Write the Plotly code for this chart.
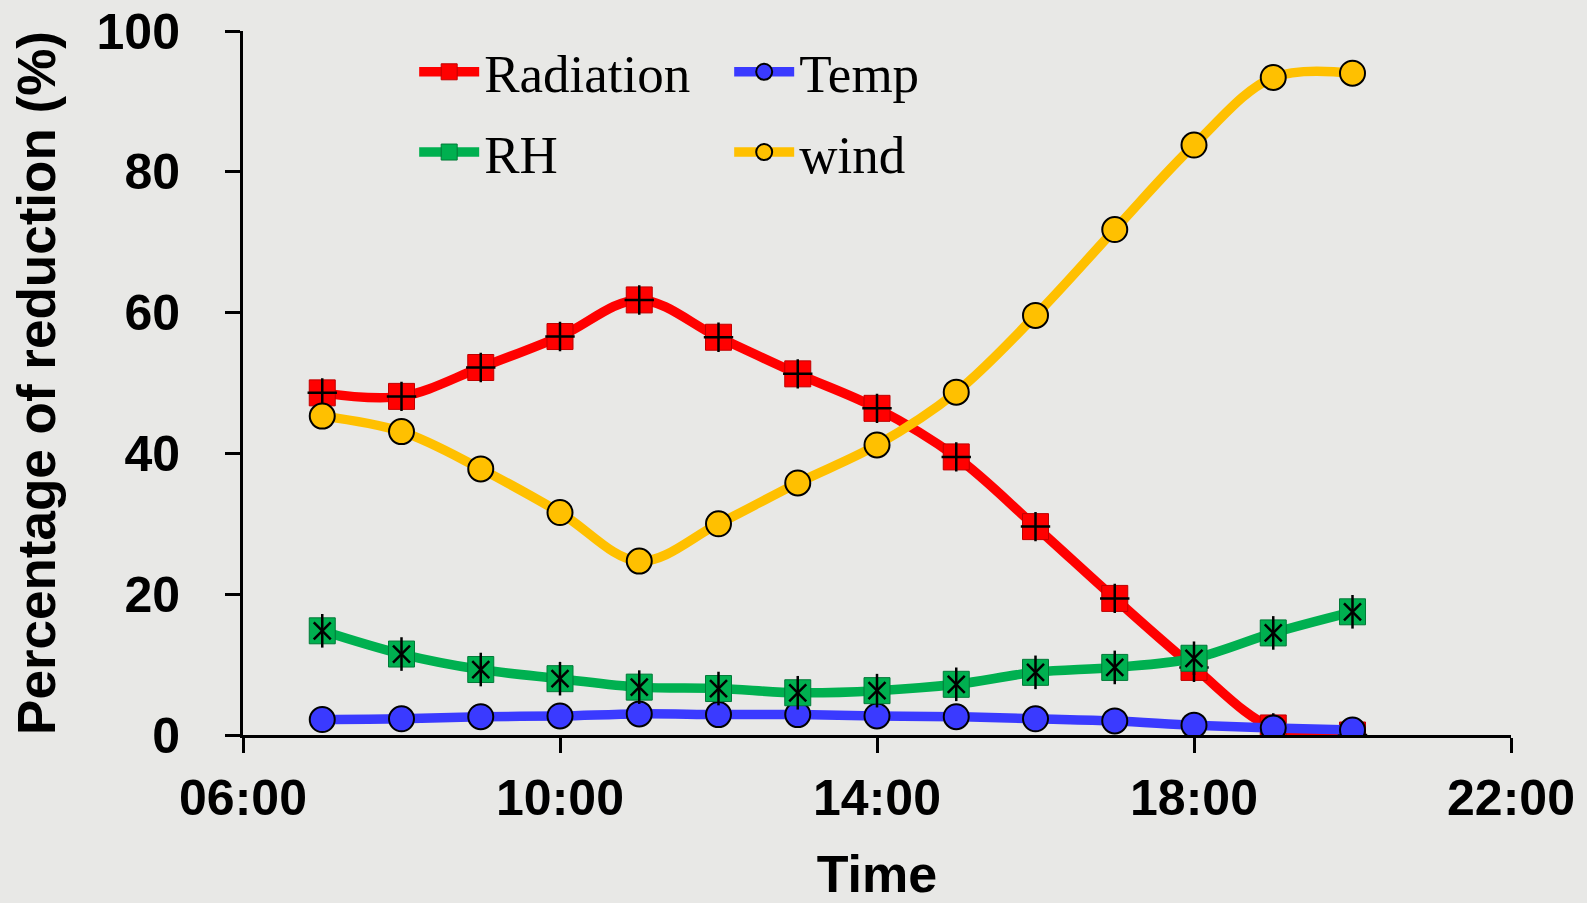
import plotly.graph_objects as go

hours = [7, 8, 9, 10, 11, 12, 13, 14, 15, 16, 17, 18, 19, 20]
radiation = [48.6, 48.1, 52.2, 56.6, 61.8, 56.5, 51.3, 46.4, 39.5, 29.6, 19.4, 9.6, 1.0, 0.0]
temp = [2.2, 2.3, 2.6, 2.7, 3.0, 2.9, 2.9, 2.7, 2.6, 2.3, 2.0, 1.4, 1.0, 0.7]
rh = [14.8, 11.5, 9.3, 8.0, 6.8, 6.6, 6.0, 6.3, 7.2, 8.9, 9.6, 10.9, 14.5, 17.5]
wind = [45.3, 43.1, 37.8, 31.6, 24.7, 30.0, 35.8, 41.2, 48.7, 59.6, 71.8, 83.8, 93.4, 94.0]
tick_hours = [6, 10, 14, 18, 22]
tick_labels = ["06:00", "10:00", "14:00", "18:00", "22:00"]

RED = "#ff0000"
BLUE = "#3a3aff"
GREEN = "#00b050"
YELLOW = "#ffc000"
LW = 9.5

fig = go.Figure()

# Radiation
fig.add_trace(go.Scatter(
    x=hours, y=radiation, name="Radiation", mode="lines+markers",
    line=dict(color=RED, width=LW, shape="spline"),
    marker=dict(symbol="square", size=26, color=RED, line=dict(color="#c00000", width=1)),
    legend="legend"))
fig.add_trace(go.Scatter(
    x=hours, y=radiation, mode="markers", showlegend=False, hoverinfo="skip",
    marker=dict(symbol="cross-thin-open", size=21, color="black", line=dict(color="black", width=2.5))))

# Temp
fig.add_trace(go.Scatter(
    x=hours, y=temp, name="Temp", mode="lines+markers",
    line=dict(color=BLUE, width=LW, shape="spline"),
    marker=dict(symbol="circle", size=25, color=BLUE, line=dict(color="black", width=2)),
    legend="legend"))

# RH
fig.add_trace(go.Scatter(
    x=hours, y=rh, name="RH", mode="lines+markers",
    line=dict(color=GREEN, width=LW, shape="spline"),
    marker=dict(symbol="square", size=26, color=GREEN, line=dict(color="#007a38", width=1)),
    legend="legend2"))
fig.add_trace(go.Scatter(
    x=hours, y=rh, mode="markers", showlegend=False, hoverinfo="skip",
    marker=dict(symbol="x-thin-open", size=17, color="black", line=dict(color="black", width=2.5))))
fig.add_trace(go.Scatter(
    x=hours, y=rh, mode="markers", showlegend=False, hoverinfo="skip",
    marker=dict(symbol="line-ns-open", size=24, color="black", line=dict(color="black", width=2.5))))

# wind
fig.add_trace(go.Scatter(
    x=hours, y=wind, name="wind", mode="lines+markers",
    line=dict(color=YELLOW, width=LW, shape="spline"),
    marker=dict(symbol="circle", size=25, color=YELLOW, line=dict(color="black", width=2)),
    legend="legend2"))

BG = "#e8e8e6"
legend_common = dict(
    orientation="h", bgcolor="rgba(0,0,0,0)",
    font=dict(family="Liberation Serif, Times New Roman, serif", size=53, color="black"),
    entrywidth=240, entrywidthmode="pixels", itemwidth=60, xanchor="left", yanchor="middle",
)

fig.update_layout(
    width=1587, height=903,
    margin=dict(l=243, r=76, t=31, b=168, autoexpand=False),
    paper_bgcolor=BG, plot_bgcolor=BG,
    showlegend=True,
    legend=dict(x=0.135, y=0.942, **legend_common),
    legend2=dict(x=0.135, y=0.828, **legend_common),
    font=dict(family="Liberation Sans, Arial, sans-serif", color="black"),
    xaxis=dict(
        range=[6, 22], tickvals=tick_hours, ticktext=tick_labels, automargin=False,
        showgrid=False, zeroline=False, showline=True, linecolor="black", linewidth=3,
        ticks="outside", ticklen=15, tickwidth=3, tickcolor="black",
        tickfont=dict(size=50, family="Liberation Sans, Arial, sans-serif", color="black", weight="bold"),
        ticklabelstandoff=2,
        title=dict(text="<b>Time</b>", font=dict(size=52, color="black"), standoff=36),
    ),
    yaxis=dict(
        range=[0, 100], tickvals=[0, 20, 40, 60, 80, 100], automargin=False,
        showgrid=False, zeroline=False, showline=True, linecolor="black", linewidth=3,
        ticks="outside", ticklen=15, tickwidth=3, tickcolor="black",
        tickfont=dict(size=50, family="Liberation Sans, Arial, sans-serif", color="black", weight="bold"),
        ticklabelstandoff=35,
        title=dict(text="<b>Percentage of reduction (%)</b>", font=dict(size=53, color="black"), standoff=25),
    ),
)

fig.write_html("out.html")
